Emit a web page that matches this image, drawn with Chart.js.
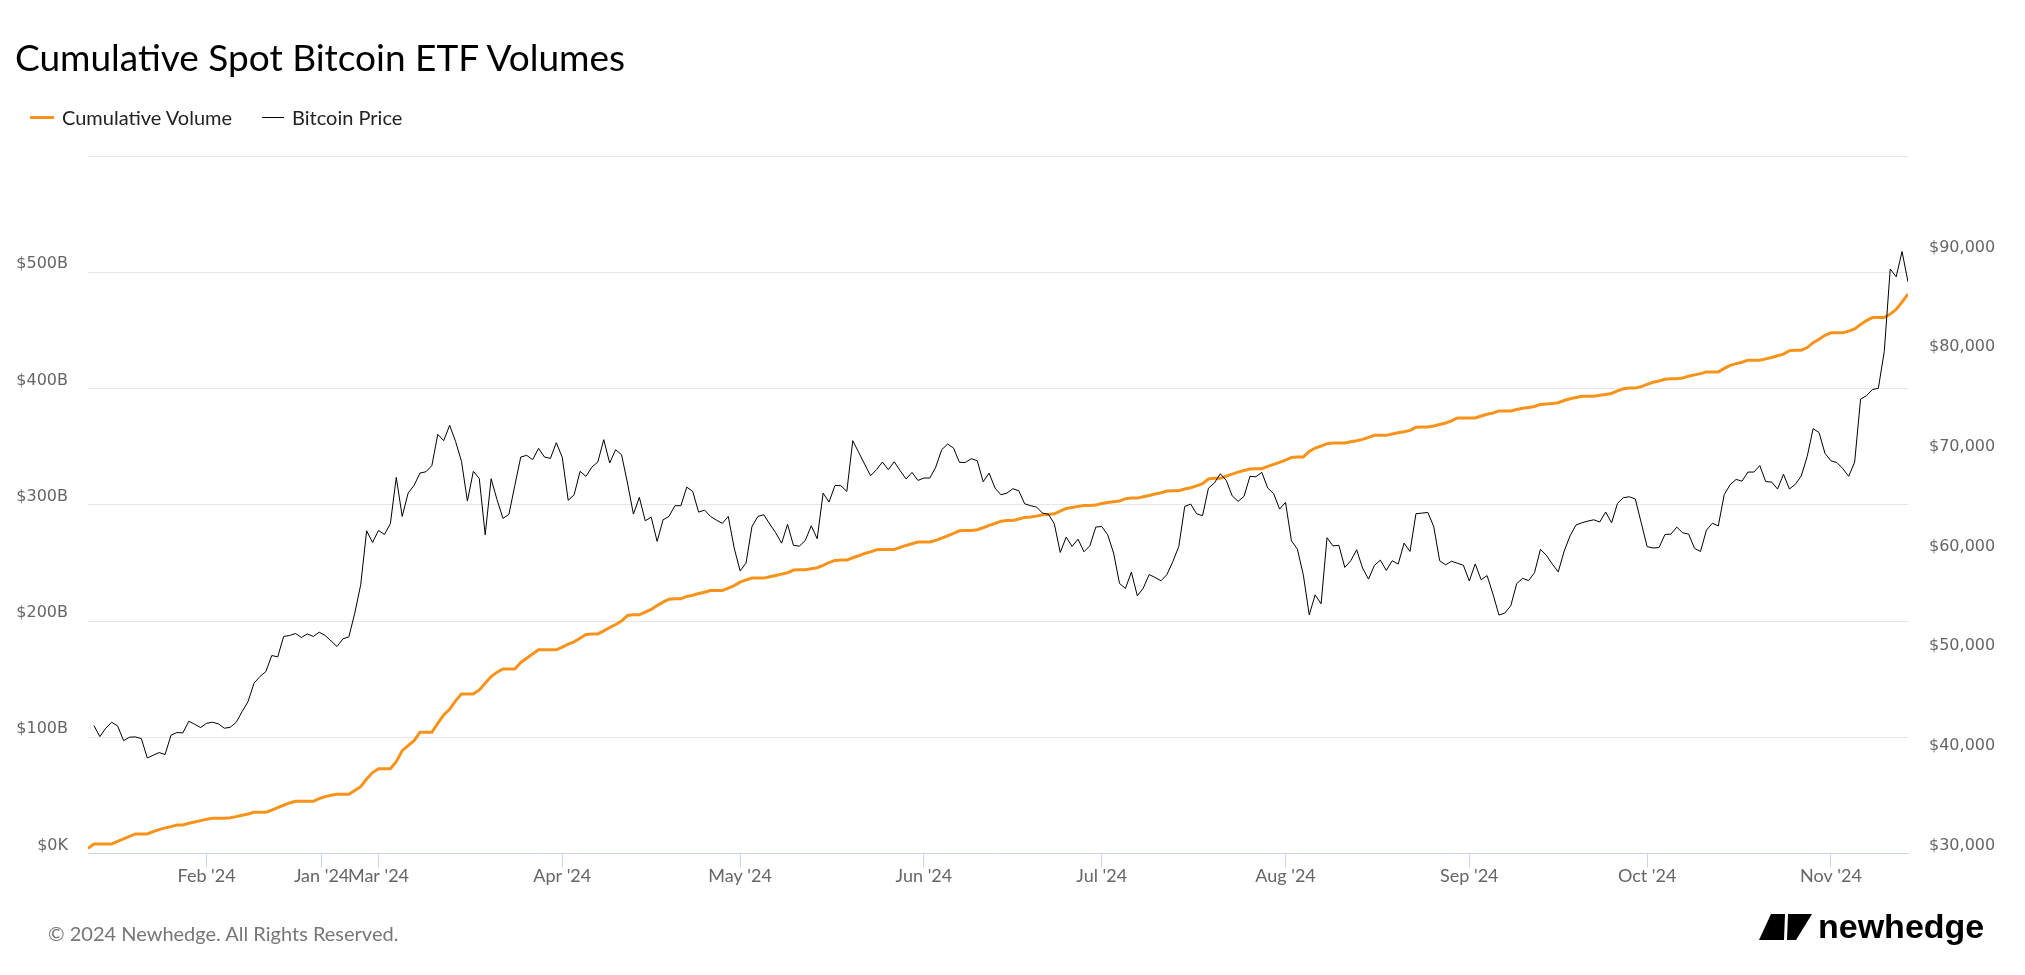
<!DOCTYPE html>
<html>
<head>
<meta charset="utf-8">
<title>Cumulative Spot Bitcoin ETF Volumes</title>
<script src="https://cdn.jsdelivr.net/npm/chart.js@4.4.1/dist/chart.umd.min.js"></script>
<style>
  html, body { margin: 0; padding: 0; background: #fff; }
  body { width: 2025px; height: 975px; position: relative; overflow: hidden; font-family: Lato, sans-serif; }
  #chart { position: absolute; left: 0; top: 0; }
  .title { position: absolute; left: 15px; top: 38px; font-size: 37px; line-height: 37px; color: #000; white-space: nowrap; }
  .legend { position: absolute; left: 30px; top: 105px; height: 24px; font-size: 20px; color: #222; display: flex; align-items: center; white-space: nowrap; }
  .legend .item { display: flex; align-items: center; margin-right: 30px; }
  .legend .swatch { display: inline-block; width: 24px; margin-right: 8px; }
  .footer { position: absolute; left: 48px; top: 921px; font-size: 20px; color: #777; white-space: nowrap; }
  .logo { position: absolute; left: 1757px; top: 910px; }
</style>
</head>
<body>
<canvas id="chart" width="2025" height="975"></canvas>
<div class="title">Cumulative Spot Bitcoin ETF Volumes</div>
<div class="legend">
  <div class="item"><span class="swatch" style="height:3px;background:#f7931a"></span>Cumulative Volume</div>
  <div class="item"><span class="swatch" style="height:1px;background:#000;width:22px"></span>Bitcoin Price</div>
</div>
<div class="footer">© 2024 Newhedge. All Rights Reserved.</div>
<svg class="logo" width="232" height="40" viewBox="0 0 232 40">
  <path d="M2 30 L14 4 L28 4 L27 30 Z" fill="#000"/>
  <path d="M31 4 L55 4 L39 30 L30 30 Z" fill="#000"/>
  <text x="61" y="28" font-family="Liberation Sans, Arial, sans-serif" font-weight="bold" font-size="34" fill="#000">newhedge</text>
</svg>
<script>
// days are counted from 1 Jan 2024 (= day 0), one value per day
const priceStartDay = 12;
const volumeStartDay = 11;

// Bitcoin price, USD
const priceValues = [
  42840, 41730, 42570, 43170, 42800, 41330, 41670, 41700, 41530, 39590,
  39860, 40130, 39930, 41870, 42140, 42100, 43270, 42970, 42640, 43070,
  43170, 43010, 42570, 42670, 43170, 44240, 45250, 47090, 47760, 48260,
  49870, 49730, 51780, 51880, 52080, 51680, 52040, 51780, 52210, 51880,
  51340, 50770, 51540, 51740, 54120, 56970, 62390, 61220, 62420, 62020,
  63090, 67750, 63830, 66170, 66940, 68180, 68310, 68920, 72060, 71430,
  72970, 71360, 69350, 65370, 68350, 67640, 61990, 67610, 65500, 63630,
  64030, 66940, 69790, 69960, 69520, 70660, 69790, 69650, 71230, 69750,
  65440, 66000, 68350, 67850, 68780, 69290, 71530, 69190, 70520, 70020,
  67180, 64060, 65740, 63390, 63760, 61320, 63490, 63830, 64900, 64900,
  66770, 66340, 64260, 64460, 63830, 63460, 63130, 63830, 60650, 58370,
  59140, 62820, 63830, 64000, 63060, 62190, 61150, 63030, 60920, 60850,
  61420, 62890, 61590, 66170, 65270, 66940, 66910, 66340, 71430, 70260,
  69080, 67910, 68520, 69290, 68520, 69320, 68410, 67580, 68250, 67440,
  67680, 67680, 68780, 70520, 71090, 70690, 69250, 69250, 69620, 69420,
  67310, 68180, 66670, 66000, 66170, 66610, 66410, 65100, 64900, 64770,
  64160, 64060, 63090, 60210, 61750, 60820, 61550, 60280, 60880, 62760,
  62820, 61990, 60150, 57100, 56600, 58240, 55860, 56630, 58000, 57700,
  57370, 58000, 59310, 60820, 64830, 65070, 64100, 63900, 66670, 67180,
  68110, 67440, 65900, 65340, 65840, 67850, 67810, 68250, 66670, 66110,
  64570, 65240, 61380, 60550, 57970, 53950, 55960, 55060, 61690, 60880,
  60920, 58710, 59380, 60480, 58640, 57540, 58910, 59440, 58410, 59380,
  59040, 61150, 60310, 64100, 64160, 64230, 62820, 59380, 58970, 59330,
  59130, 58930, 57350, 59060, 57470, 57890, 56020, 53930, 54130, 54870,
  57090, 57610, 57390, 58180, 60530, 59920, 59050, 58260, 60350, 61880,
  62970, 63190, 63360, 63490, 63270, 64270, 63190, 65140, 65710, 65800,
  65580, 63190, 60790, 60660, 60700, 62010, 62050, 62750, 62180, 62050,
  60620, 60310, 62450, 63140, 62880, 66020, 67020, 67540, 67370, 68280,
  68280, 68930, 67320, 67280, 66580, 68060, 66580, 67060, 67890, 69850,
  72640, 72240, 70150, 69410, 69240, 68630, 67850, 69280, 75600, 75950,
  76560, 76690, 80390, 88660, 87880, 90410, 87360
];

// cumulative spot ETF volume, billions USD
const volumeValues = [
  4.4, 8.2, 8.2, 8.2, 8.2, 10.5, 12.5, 14.8, 16.8, 16.8,
  16.8, 18.8, 20.5, 22.0, 23.1, 24.5, 24.5, 26.0, 27.1, 28.3,
  29.4, 30.3, 30.3, 30.3, 30.8, 31.7, 32.9, 34.0, 35.4, 35.4,
  35.4, 37.4, 39.5, 41.5, 43.5, 44.9, 44.9, 44.9, 44.9, 47.2,
  48.9, 50.1, 50.9, 50.9, 50.9, 54.1, 57.5, 64.1, 69.6, 73.0,
  73.0, 73.0, 79.0, 88.5, 92.8, 97.1, 104.3, 104.3, 104.3, 112.0,
  119.2, 124.1, 131.3, 137.3, 137.3, 137.3, 140.7, 146.5, 152.2, 156.0,
  158.8, 158.8, 158.8, 164.3, 168.0, 171.7, 175.2, 175.2, 175.2, 175.2,
  177.5, 180.1, 182.1, 185.2, 188.4, 188.9, 188.9, 191.5, 194.4, 197.0,
  199.9, 204.7, 205.3, 205.3, 207.6, 209.9, 213.3, 216.2, 218.8, 219.1,
  219.1, 221.1, 222.2, 223.7, 224.8, 226.2, 226.2, 226.2, 228.3, 230.5,
  233.4, 235.4, 236.9, 236.9, 236.9, 238.0, 239.2, 240.3, 241.5, 243.8,
  244.0, 244.0, 244.9, 245.8, 247.8, 250.3, 252.1, 252.4, 252.4, 254.4,
  256.1, 258.1, 259.5, 261.3, 261.5, 261.5, 261.5, 263.3, 265.0, 266.4,
  267.9, 267.9, 267.9, 269.3, 271.3, 273.3, 275.3, 277.6, 277.9, 277.9,
  278.5, 280.2, 282.2, 283.9, 285.9, 286.5, 286.5, 287.7, 289.1, 289.4,
  290.2, 291.4, 291.7, 292.2, 294.5, 296.8, 297.7, 298.6, 299.4, 299.4,
  299.7, 301.1, 302.0, 302.6, 303.2, 305.2, 305.7, 305.7, 306.9, 308.0,
  309.2, 310.3, 311.8, 312.0, 312.0, 313.5, 314.6, 316.3, 318.1, 322.1,
  322.7, 322.7, 324.7, 326.4, 328.1, 329.5, 330.7, 331.0, 331.0, 333.0,
  334.7, 336.4, 338.4, 340.7, 341.0, 341.0, 345.9, 348.8, 350.5, 352.5,
  353.1, 353.1, 353.1, 354.2, 355.1, 356.2, 357.9, 359.7, 359.7, 359.7,
  360.8, 362.0, 362.8, 364.0, 366.6, 366.8, 366.8, 367.7, 369.1, 370.3,
  372.1, 374.6, 374.6, 374.6, 374.6, 376.3, 377.8, 378.9, 380.7, 380.7,
  380.7, 381.9, 383.0, 383.7, 384.5, 386.3, 386.7, 387.1, 387.8, 389.7,
  391.2, 392.3, 393.4, 393.4, 393.4, 394.2, 394.9, 395.7, 397.9, 399.8,
  400.5, 400.5, 401.6, 403.5, 405.4, 406.5, 408.0, 408.4, 408.4, 409.1,
  410.6, 411.7, 412.8, 414.3, 414.3, 414.3, 417.3, 419.9, 421.4, 422.6,
  424.4, 424.4, 424.4, 425.5, 426.7, 428.2, 429.6, 432.6, 433.0, 433.0,
  435.2, 439.4, 442.3, 445.7, 447.9, 447.9, 447.9, 449.4, 451.3, 455.0,
  458.4, 461.0, 461.0, 461.0, 464.0, 468.1, 474.4, 481.2
];

// x axis ticks (the odd "Jan '24" label sits between Feb and Mar in the source)
const xTickDays = [31, 50.4, 60, 91, 121, 152, 182, 213, 244, 274, 305];
const xTickLabels = ["Feb '24", "Jan '24", "Mar '24", "Apr '24", "May '24", "Jun '24",
                     "Jul '24", "Aug '24", "Sep '24", "Oct '24", "Nov '24"];

const volumeTicks = [0, 100, 200, 300, 400, 500, 600];
const volumeTickLabels = ['$0K', '$100B', '$200B', '$300B', '$400B', '$500B', ''];

const priceTicks = [30000, 40000, 50000, 60000, 70000, 80000, 90000, 100000];
const priceTickLabels = ['$30,000', '$40,000', '$50,000', '$60,000', '$70,000', '$80,000', '$90,000', ''];

const priceData = priceValues.map((v, i) => ({ x: priceStartDay + i, y: v }));
const volumeData = volumeValues.map((v, i) => ({ x: volumeStartDay + i, y: v }));

const tickFont = { family: 'DejaVu Sans', size: 16 };

new Chart(document.getElementById('chart'), {
    type: 'line',
    data: {
        datasets: [
            {
                label: 'Cumulative Volume',
                data: volumeData,
                yAxisID: 'yVol',
                borderColor: '#f7931a',
                borderWidth: 3,
                pointRadius: 0,
                tension: 0,
                order: 2
            },
            {
                label: 'Bitcoin Price',
                data: priceData,
                yAxisID: 'yPrice',
                borderColor: '#000000',
                borderWidth: 1,
                pointRadius: 0,
                tension: 0,
                order: 1
            }
        ]
    },
    options: {
        responsive: false,
        animation: false,
        layout: { padding: { top: 156, left: 0, right: 0, bottom: 0 } },
        plugins: {
            legend: { display: false },
            tooltip: { enabled: false }
        },
        scales: {
            x: {
                type: 'linear',
                min: 11,
                max: 318,
                afterBuildTicks: function(scale) {
                    scale.ticks = xTickDays.map(d => ({ value: d }));
                },
                afterFit: function(scale) { scale.height = 121.5; },
                grid: { drawOnChartArea: false, drawTicks: true, tickLength: 14, color: '#ccd6eb' },
                border: { color: '#ccd6eb', width: 1 },
                ticks: {
                    autoSkip: false,
                    maxRotation: 0,
                    padding: -2,
                    color: '#666666',
                    font: { family: 'Lato', size: 18 },
                    callback: function(value, index) { return xTickLabels[index]; }
                }
            },
            yVol: {
                position: 'left',
                min: 0,
                max: 600,
                afterBuildTicks: function(scale) {
                    scale.ticks = volumeTicks.map(v => ({ value: v }));
                },
                afterFit: function(scale) { scale.width = 88; },
                grid: { color: '#e6e6e6', drawTicks: false },
                border: { display: false },
                ticks: {
                    padding: 20,
                    align: 'end',
                    color: '#666666',
                    font: tickFont,
                    callback: function(value, index) { return volumeTickLabels[index]; }
                }
            },
            yPrice: {
                position: 'right',
                min: 30000,
                max: 100000,
                afterBuildTicks: function(scale) {
                    scale.ticks = priceTicks.map(v => ({ value: v }));
                },
                afterFit: function(scale) { scale.width = 117; },
                grid: { display: false, drawTicks: false },
                border: { display: false },
                ticks: {
                    padding: 21,
                    align: 'end',
                    color: '#666666',
                    font: tickFont,
                    callback: function(value, index) { return priceTickLabels[index]; }
                }
            }
        }
    }
});
</script>
</body>
</html>
